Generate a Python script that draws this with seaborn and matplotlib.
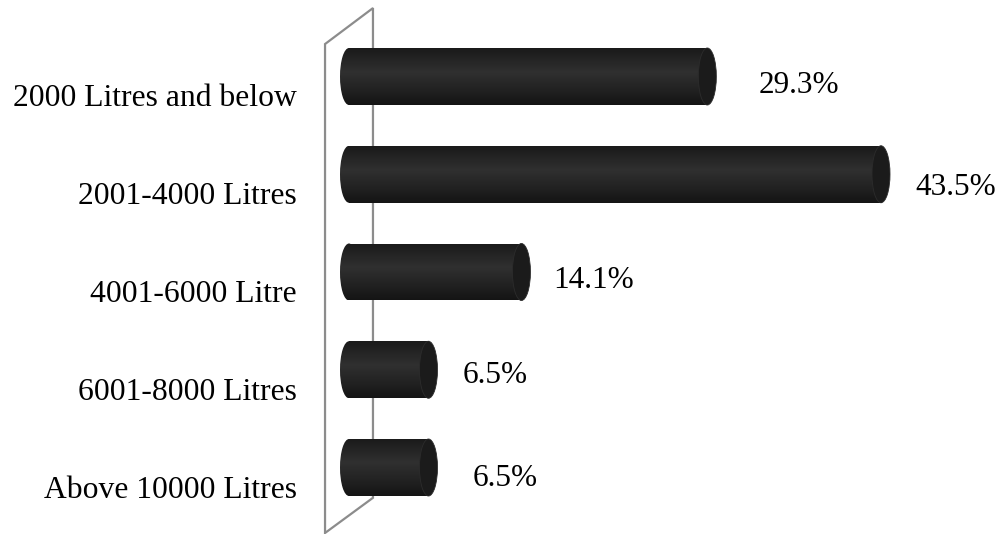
import numpy as np
import pandas as pd
import matplotlib
matplotlib.use("Agg")
import matplotlib.pyplot as plt
from matplotlib.patches import Ellipse, Polygon
from matplotlib.colors import LinearSegmentedColormap
import seaborn as sns

# Storage capacity of water tanks (share of respondents, %)
categories = [
    "2000 Litres and below",
    "2001-4000 Litres",
    "4001-6000 Litre",
    "6001-8000 Litres",
    "Above 10000 Litres",
]
shares = [29.3, 43.5, 14.1, 6.5, 6.5]
share_labels = ["29.3%", "43.5%", "14.1%", "6.5%", "6.5%"]

sns.set_theme(style="white")
plt.rcParams["font.family"] = ["Liberation Serif", "DejaVu Serif"]

W, H = 999, 534
fig = plt.figure(figsize=(W / 100, H / 100), dpi=100)

# axes geometry (pixels)
px_per_x = 12.23
x0_px = 349.0
px_per_y = 97.75
y0_px = 76.5
xlim = (-2.5, 53.0)
ylim = (4.65, -0.75)
left_px = x0_px + xlim[0] * px_per_x
right_px = x0_px + xlim[1] * px_per_x
top_px = y0_px + ylim[1] * px_per_y
bot_px = y0_px + ylim[0] * px_per_y
ax = fig.add_axes([left_px / W, 1 - bot_px / H,
                   (right_px - left_px) / W, (bot_px - top_px) / H])

df = pd.DataFrame({"category": categories, "share": shares})
bar_h = 57 / px_per_y
sns.barplot(data=df, x="share", y="category", order=categories, orient="h",
            width=bar_h, color="#242424", saturation=1, ax=ax, zorder=3)

# back wall of the 3-D plot area
wall = Polygon([(-1.96, -0.332), (1.96, -0.70), (1.96, 4.31), (-1.96, 4.67)],
               closed=True, fill=False, edgecolor="#8c8c8c", linewidth=1.6,
               clip_on=False, zorder=1)
ax.add_patch(wall)

# cylinder shading
body_cmap = LinearSegmentedColormap.from_list(
    "cyl", [(0.0, "#1a1a1a"), (0.12, "#202020"), (0.42, "#303030"),
            (0.75, "#212121"), (1.0, "#141414")])
grad = np.linspace(0, 1, 128).reshape(-1, 1)
cap_w = 2 * 9.0 / px_per_x

for patch in list(ax.patches):
    if patch is wall:
        continue
    xa = patch.get_x()
    xb = xa + patch.get_width()
    ya = patch.get_y()
    yb = ya + patch.get_height()
    yc = (ya + yb) / 2
    hh = yb - ya
    patch.set_facecolor("none")
    patch.set_edgecolor("none")
    # body
    im = ax.imshow(grad, extent=[xa, xb, yb, ya], aspect="auto",
                   cmap=body_cmap, origin="upper", zorder=3, interpolation="bilinear")
    im.set_clip_path(patch)
    # rounded back end
    back = Ellipse((xa, yc), cap_w, hh, facecolor="none", edgecolor="none")
    ax.add_patch(back)
    im2 = ax.imshow(grad, extent=[xa - cap_w, xa + cap_w, yb, ya], aspect="auto",
                    cmap=body_cmap, origin="upper", zorder=2.9, interpolation="bilinear")
    im2.set_clip_path(back)
    # visible front face
    ax.add_patch(Ellipse((xb, yc), cap_w, hh, facecolor="#1b1b1b",
                         edgecolor="#2c2c2c", linewidth=0.6, zorder=4))

# value labels
label_dx_px = [42, 25, 23, 25, 35]
label_base_px = [16.5, 20.75, 16.0, 13.25, 18.5]
for i, (v, txt) in enumerate(zip(shares, share_labels)):
    x = v + (9.0 + label_dx_px[i]) / px_per_x
    y = i + label_base_px[i] / px_per_y
    ax.text(x, y, txt, ha="left", va="baseline", fontsize=22.5,
            color="black", clip_on=False, zorder=5)

# category labels
for i, cat in enumerate(categories):
    ax.text((297 - x0_px) / px_per_x, i + 30 / px_per_y, cat, ha="right",
            va="baseline", fontsize=22.8, color="black", clip_on=False)

ax.set_xlim(*xlim)
ax.set_ylim(*ylim)
ax.set_xticks([])
ax.set_yticks([])
ax.set_xlabel("")
ax.set_ylabel("")
for s in ax.spines.values():
    s.set_visible(False)
ax.patch.set_alpha(0)

fig.savefig("out.png", dpi=100, facecolor="white")
